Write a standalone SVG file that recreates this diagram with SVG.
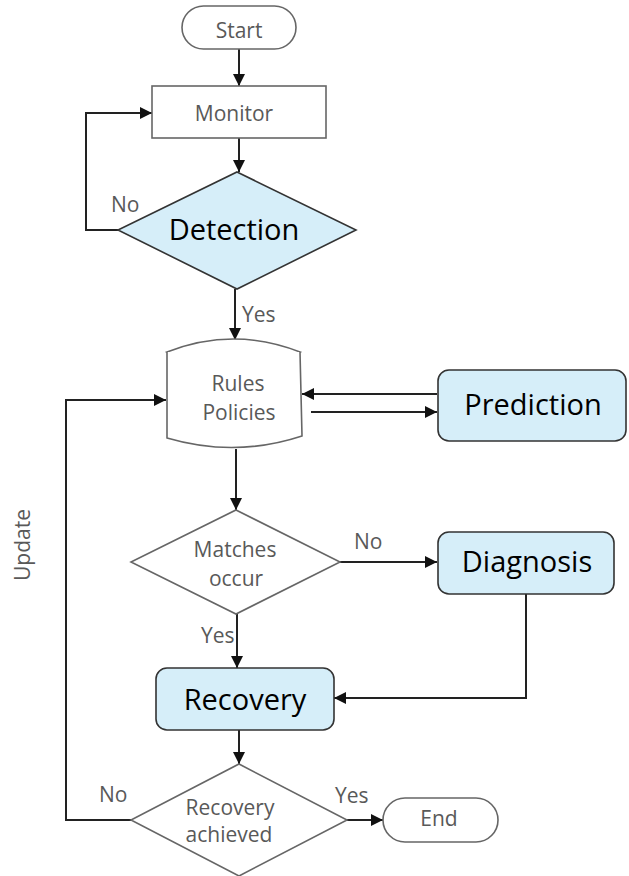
<svg xmlns="http://www.w3.org/2000/svg" width="629" height="876" viewBox="0 0 629 876">
  <defs>
    <marker id="arrow" viewBox="0 0 12 12" refX="12" refY="6" markerWidth="12" markerHeight="12" markerUnits="userSpaceOnUse" orient="auto">
      <path d="M0,0 L12,6 L0,12 Z" fill="#111"/>
    </marker>
    <style>
      .edge { fill: none; stroke: #222; stroke-width: 2; }
      .plain { fill: #fff; stroke: #666; stroke-width: 1.6; }
      .blue { fill: #d6eef9; stroke: #333; stroke-width: 1.6; }
      .small { font-family: "Open Sans", "Noto Sans", sans-serif; font-size: 21px; fill: #595959; }
      .big { font-family: "Open Sans", "Noto Sans", sans-serif; font-size: 29px; fill: #000; }
      .mid { text-anchor: middle; }
    </style>
  </defs>
  <rect width="629" height="876" fill="#fff"/>

  <g id="connectors">
    <path class="edge" d="M239,49 V86" marker-end="url(#arrow)"/>
    <path class="edge" d="M239,138 V172" marker-end="url(#arrow)"/>
    <path class="edge" d="M118,230 H86 V113 H152" marker-end="url(#arrow)"/>
    <path class="edge" d="M235,289 V340" marker-end="url(#arrow)"/>
    <path class="edge" d="M437,394 H302" marker-end="url(#arrow)"/>
    <path class="edge" d="M311,412 H437" marker-end="url(#arrow)"/>
    <path class="edge" d="M236,449 V510" marker-end="url(#arrow)"/>
    <path class="edge" d="M340,562 H437" marker-end="url(#arrow)"/>
    <path class="edge" d="M237,614 V668" marker-end="url(#arrow)"/>
    <path class="edge" d="M526,594 V698 H334" marker-end="url(#arrow)"/>
    <path class="edge" d="M239,730 V764" marker-end="url(#arrow)"/>
    <path class="edge" d="M131,820 H66 V400 H166" marker-end="url(#arrow)"/>
    <path class="edge" d="M347,820 H383" marker-end="url(#arrow)"/>
  </g>

  <g id="start">
    <rect class="plain" x="182" y="6" width="114" height="43" rx="21.5"/>
    <text class="small mid" x="239" y="38">Start</text>
  </g>

  <g id="monitor">
    <rect class="plain" x="152" y="86" width="174" height="52"/>
    <text class="small mid" x="234" y="121">Monitor</text>
  </g>

  <g id="detection">
    <polygon class="blue" points="237,172 356,230 237,289 118,230"/>
    <text class="big mid" x="234" y="240">Detection</text>
  </g>

  <g id="rules">
    <path class="plain" d="M167,352 Q233.5,326 300,352 Q233.5,376 167,352 Z"/>
    <path class="plain" d="M167,352 V438 Q235,458 302,436 L300,352" fill="none"/>
    <text class="small mid" x="238" y="391">Rules</text>
    <text class="small mid" x="239" y="420">Policies</text>
  </g>

  <g id="prediction">
    <rect class="blue" x="438" y="370" width="188" height="71" rx="11"/>
    <text class="big mid" x="533" y="415">Prediction</text>
  </g>

  <g id="matches">
    <polygon class="plain" points="236,510 340,562 236,614 131,562"/>
    <text class="small mid" x="235" y="557">Matches</text>
    <text class="small mid" x="236" y="586">occur</text>
  </g>

  <g id="diagnosis">
    <rect class="blue" x="438" y="532" width="176" height="62" rx="11"/>
    <text class="big mid" x="527" y="572">Diagnosis</text>
  </g>

  <g id="recovery">
    <rect class="blue" x="156" y="668" width="178" height="62" rx="11"/>
    <text class="big mid" x="245" y="710">Recovery</text>
  </g>

  <g id="achieved">
    <polygon class="plain" points="239,764 347,820 239,876 131,820"/>
    <text class="small mid" x="230" y="815">Recovery</text>
    <text class="small mid" x="229" y="842">achieved</text>
  </g>

  <g id="end">
    <rect class="plain" x="383" y="798" width="115" height="44" rx="22"/>
    <text class="small mid" x="439" y="826">End</text>
  </g>

  <g id="labels">
    <text class="small" x="111" y="212">No</text>
    <text class="small" x="242" y="322">Yes</text>
    <text class="small" x="354" y="549">No</text>
    <text class="small" x="201" y="643">Yes</text>
    <text class="small" x="99" y="802">No</text>
    <text class="small" x="335" y="803">Yes</text>
    <text class="small mid" transform="translate(30,545) rotate(-90)">Update</text>
  </g>
</svg>
